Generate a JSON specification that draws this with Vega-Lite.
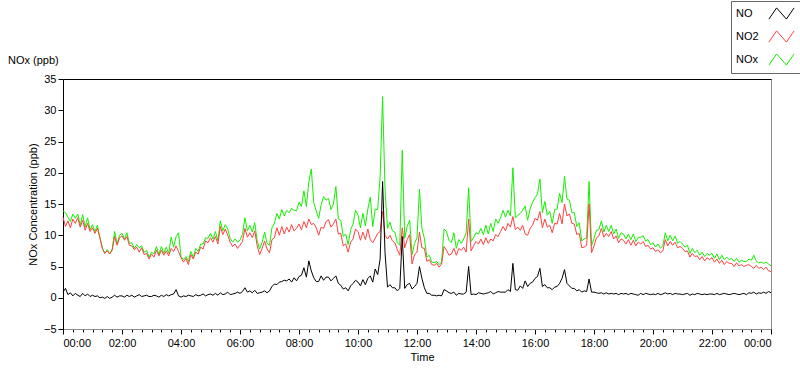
{
  "$schema": "https://vega.github.io/schema/vega-lite/v6.json",
  "width": 708,
  "height": 250,
  "autosize": {"type": "none"},
  "padding": {"left": 63, "top": 79, "right": 29, "bottom": 40},
  "background": "white",
  "config": {
    "font": "Liberation Sans",
    "view": {"stroke": "#8c8c8c", "strokeWidth": 1},
    "axis": {"labelFont": "Liberation Sans", "labelFontSize": 11, "labelColor": "#000", "titleFont": "Liberation Sans", "titleFontSize": 11, "titleFontWeight": "normal", "titleColor": "#000", "grid": false, "tickColor": "#000", "domainColor": "#000"}
  },
  "title": {"text": "NOx (ppb)", "anchor": "start", "frame": "group", "dx": -55, "dy": 90, "offset": 16, "baseline": "alphabetic", "fontSize": 11, "fontWeight": "normal", "font": "Liberation Sans", "color": "#000"},
  "data": {"values": [
{"t":0,"NO":0.9,"NO2":12.9,"NOx":13.9},{"t":5,"NO":1.5,"NO2":11.4,"NOx":13.6},{"t":10,"NO":0.5,"NO2":12.3,"NOx":12.9},{"t":15,"NO":0.8,"NO2":11.2,"NOx":12.2},{"t":20,"NO":0.3,"NO2":12.6,"NOx":13.4},{"t":25,"NO":0.7,"NO2":11.9,"NOx":12.7},{"t":30,"NO":0.4,"NO2":12.8,"NOx":13.4},{"t":35,"NO":0.2,"NO2":11.3,"NOx":11.6},{"t":40,"NO":0.7,"NO2":12.4,"NOx":13.3},{"t":45,"NO":0.3,"NO2":10.8,"NOx":11.3},{"t":50,"NO":0.6,"NO2":11.9,"NOx":12.8},{"t":55,"NO":0.2,"NO2":10.6,"NOx":10.9},
{"t":60,"NO":0.4,"NO2":11.2,"NOx":11.7},{"t":65,"NO":0.2,"NO2":10.3,"NOx":10.6},{"t":70,"NO":0.3,"NO2":11.1,"NOx":11.6},{"t":75,"NO":0.0,"NO2":9.6,"NOx":9.7},{"t":80,"NO":0.1,"NO2":7.9,"NOx":8.0},{"t":85,"NO":-0.1,"NO2":7.1,"NOx":7.1},{"t":90,"NO":0.2,"NO2":7.5,"NOx":7.7},{"t":95,"NO":-0.1,"NO2":7.0,"NOx":7.0},{"t":100,"NO":0.1,"NO2":7.6,"NOx":7.8},{"t":105,"NO":0.4,"NO2":9.8,"NOx":10.6},{"t":110,"NO":0.1,"NO2":8.4,"NOx":8.6},{"t":115,"NO":0.3,"NO2":9.6,"NOx":10.0},
{"t":120,"NO":0.3,"NO2":9.9,"NOx":10.3},{"t":125,"NO":0.1,"NO2":9.2,"NOx":9.4},{"t":130,"NO":0.4,"NO2":9.8,"NOx":10.4},{"t":135,"NO":0.2,"NO2":8.4,"NOx":8.7},{"t":140,"NO":0.4,"NO2":8.3,"NOx":8.8},{"t":145,"NO":0.1,"NO2":7.7,"NOx":7.9},{"t":150,"NO":0.3,"NO2":8.1,"NOx":8.5},{"t":155,"NO":0.5,"NO2":7.3,"NOx":8.0},{"t":160,"NO":0.2,"NO2":8.0,"NOx":8.3},{"t":165,"NO":0.3,"NO2":6.9,"NOx":7.3},{"t":170,"NO":0.4,"NO2":7.1,"NOx":7.6},{"t":175,"NO":0.2,"NO2":6.2,"NOx":6.5},
{"t":180,"NO":0.2,"NO2":7.0,"NOx":7.3},{"t":185,"NO":0.4,"NO2":6.5,"NOx":7.0},{"t":190,"NO":0.3,"NO2":7.6,"NOx":8.2},{"t":195,"NO":0.1,"NO2":6.7,"NOx":6.9},{"t":200,"NO":0.4,"NO2":7.6,"NOx":8.2},{"t":205,"NO":0.2,"NO2":6.8,"NOx":7.1},{"t":210,"NO":0.5,"NO2":7.5,"NOx":8.1},{"t":215,"NO":0.3,"NO2":6.7,"NOx":7.1},{"t":220,"NO":0.5,"NO2":7.9,"NOx":9.7},{"t":225,"NO":0.6,"NO2":7.4,"NOx":8.1},{"t":230,"NO":1.3,"NO2":8.3,"NOx":9.8},{"t":235,"NO":0.3,"NO2":7.4,"NOx":10.4},
{"t":240,"NO":0.1,"NO2":6.4,"NOx":6.6},{"t":245,"NO":0.3,"NO2":5.7,"NOx":6.1},{"t":250,"NO":0.2,"NO2":6.3,"NOx":6.6},{"t":255,"NO":0.4,"NO2":5.3,"NOx":5.8},{"t":260,"NO":0.3,"NO2":6.9,"NOx":7.4},{"t":265,"NO":0.2,"NO2":6.2,"NOx":6.5},{"t":270,"NO":0.5,"NO2":7.3,"NOx":7.9},{"t":275,"NO":0.3,"NO2":7.0,"NOx":7.4},{"t":280,"NO":0.4,"NO2":8.1,"NOx":8.6},{"t":285,"NO":0.6,"NO2":7.8,"NOx":8.6},{"t":290,"NO":0.3,"NO2":9.1,"NOx":9.6},{"t":295,"NO":0.5,"NO2":8.8,"NOx":9.5},
{"t":300,"NO":0.6,"NO2":9.6,"NOx":10.3},{"t":305,"NO":0.4,"NO2":8.9,"NOx":9.4},{"t":310,"NO":0.7,"NO2":9.8,"NOx":10.6},{"t":315,"NO":0.4,"NO2":8.6,"NOx":9.1},{"t":320,"NO":0.8,"NO2":11.4,"NOx":12.3},{"t":325,"NO":0.5,"NO2":10.1,"NOx":10.7},{"t":330,"NO":0.6,"NO2":11.0,"NOx":11.7},{"t":335,"NO":0.9,"NO2":10.0,"NOx":11.0},{"t":340,"NO":0.5,"NO2":8.9,"NOx":9.5},{"t":345,"NO":0.6,"NO2":8.2,"NOx":8.9},{"t":350,"NO":0.7,"NO2":8.6,"NOx":9.4},{"t":355,"NO":0.9,"NO2":7.9,"NOx":8.9},
{"t":360,"NO":0.7,"NO2":8.4,"NOx":9.2},{"t":365,"NO":1.0,"NO2":9.0,"NOx":10.1},{"t":370,"NO":1.6,"NO2":11.1,"NOx":12.8},{"t":375,"NO":0.9,"NO2":9.7,"NOx":10.7},{"t":380,"NO":1.1,"NO2":10.4,"NOx":11.6},{"t":385,"NO":0.8,"NO2":9.6,"NOx":10.5},{"t":390,"NO":1.2,"NO2":10.7,"NOx":12.0},{"t":395,"NO":0.7,"NO2":8.3,"NOx":9.1},{"t":400,"NO":0.8,"NO2":6.9,"NOx":7.8},{"t":405,"NO":0.9,"NO2":7.9,"NOx":8.9},{"t":410,"NO":1.1,"NO2":9.1,"NOx":10.5},{"t":415,"NO":0.8,"NO2":7.8,"NOx":8.7},
{"t":420,"NO":1.1,"NO2":7.2,"NOx":8.4},{"t":425,"NO":1.8,"NO2":9.3,"NOx":11.2},{"t":430,"NO":2.2,"NO2":9.6,"NOx":11.9},{"t":435,"NO":2.1,"NO2":11.2,"NOx":13.5},{"t":440,"NO":2.5,"NO2":10.0,"NOx":12.6},{"t":445,"NO":2.6,"NO2":11.4,"NOx":14.1},{"t":450,"NO":2.8,"NO2":10.2,"NOx":13.1},{"t":455,"NO":2.7,"NO2":11.3,"NOx":14.0},{"t":460,"NO":3.0,"NO2":10.5,"NOx":13.6},{"t":465,"NO":2.5,"NO2":11.7,"NOx":14.3},{"t":470,"NO":3.2,"NO2":10.7,"NOx":14.0},{"t":475,"NO":2.7,"NO2":11.1,"NOx":13.9},
{"t":480,"NO":3.4,"NO2":11.8,"NOx":15.3},{"t":485,"NO":3.6,"NO2":10.9,"NOx":14.6},{"t":490,"NO":4.8,"NO2":12.2,"NOx":17.1},{"t":495,"NO":3.3,"NO2":11.2,"NOx":14.6},{"t":500,"NO":5.9,"NO2":12.6,"NOx":18.6},{"t":505,"NO":4.3,"NO2":11.7,"NOx":20.6},{"t":510,"NO":3.2,"NO2":11.9,"NOx":15.2},{"t":515,"NO":2.6,"NO2":11.2,"NOx":13.9},{"t":520,"NO":2.6,"NO2":10.0,"NOx":12.7},{"t":525,"NO":3.5,"NO2":11.3,"NOx":14.9},{"t":530,"NO":2.8,"NO2":11.1,"NOx":16.2},{"t":535,"NO":3.3,"NO2":12.2,"NOx":15.6},
{"t":540,"NO":3.3,"NO2":12.5,"NOx":15.9},{"t":545,"NO":2.7,"NO2":11.3,"NOx":14.1},{"t":550,"NO":3.1,"NO2":11.8,"NOx":15.0},{"t":555,"NO":3.5,"NO2":12.6,"NOx":17.8},{"t":560,"NO":2.3,"NO2":10.2,"NOx":12.6},{"t":565,"NO":2.0,"NO2":10.3,"NOx":12.4},{"t":570,"NO":1.4,"NO2":8.3,"NOx":9.8},{"t":575,"NO":1.6,"NO2":8.6,"NOx":10.2},{"t":580,"NO":1.1,"NO2":7.3,"NOx":8.5},{"t":585,"NO":1.9,"NO2":8.9,"NOx":10.9},{"t":590,"NO":2.3,"NO2":9.4,"NOx":11.8},{"t":595,"NO":2.8,"NO2":11.0,"NOx":14.0},
{"t":600,"NO":2.5,"NO2":10.6,"NOx":13.2},{"t":605,"NO":1.9,"NO2":9.2,"NOx":11.2},{"t":610,"NO":2.9,"NO2":10.5,"NOx":13.5},{"t":615,"NO":2.1,"NO2":9.3,"NOx":11.5},{"t":620,"NO":3.1,"NO2":11.0,"NOx":14.2},{"t":625,"NO":3.5,"NO2":9.3,"NOx":16.1},{"t":630,"NO":2.5,"NO2":8.8,"NOx":11.4},{"t":635,"NO":4.6,"NO2":9.5,"NOx":14.2},{"t":640,"NO":3.7,"NO2":10.3,"NOx":14.1},{"t":645,"NO":6.2,"NO2":10.6,"NOx":19.4},{"t":650,"NO":18.6,"NO2":13.8,"NOx":32.2},{"t":655,"NO":7.2,"NO2":10.0,"NOx":17.3},
{"t":660,"NO":1.7,"NO2":9.4,"NOx":11.1},{"t":665,"NO":2.1,"NO2":10.0,"NOx":12.1},{"t":670,"NO":1.6,"NO2":9.1,"NOx":10.7},{"t":675,"NO":1.6,"NO2":8.8,"NOx":10.5},{"t":680,"NO":1.1,"NO2":7.7,"NOx":8.8},{"t":685,"NO":1.5,"NO2":6.8,"NOx":8.4},{"t":690,"NO":9.8,"NO2":11.2,"NOx":23.6},{"t":695,"NO":1.5,"NO2":8.0,"NOx":9.5},{"t":700,"NO":2.1,"NO2":9.3,"NOx":11.4},{"t":705,"NO":2.3,"NO2":10.1,"NOx":12.4},{"t":710,"NO":1.4,"NO2":5.4,"NOx":6.9},{"t":715,"NO":1.8,"NO2":6.9,"NOx":8.7},
{"t":720,"NO":2.3,"NO2":7.3,"NOx":9.6},{"t":725,"NO":5.0,"NO2":10.5,"NOx":17.4},{"t":730,"NO":3.1,"NO2":8.0,"NOx":11.1},{"t":735,"NO":1.6,"NO2":7.9,"NOx":9.5},{"t":740,"NO":0.7,"NO2":5.8,"NOx":6.5},{"t":745,"NO":0.7,"NO2":6.1,"NOx":6.8},{"t":750,"NO":0.4,"NO2":5.3,"NOx":5.7},{"t":755,"NO":0.4,"NO2":5.2,"NOx":5.6},{"t":760,"NO":0.3,"NO2":5.5,"NOx":5.8},{"t":765,"NO":0.4,"NO2":4.9,"NOx":5.3},{"t":770,"NO":0.3,"NO2":5.4,"NOx":5.7},{"t":775,"NO":1.3,"NO2":8.2,"NOx":11.0},
{"t":780,"NO":1.1,"NO2":7.6,"NOx":10.6},{"t":785,"NO":0.8,"NO2":6.8,"NOx":9.2},{"t":790,"NO":0.7,"NO2":7.0,"NOx":8.8},{"t":795,"NO":0.9,"NO2":7.9,"NOx":10.4},{"t":800,"NO":0.4,"NO2":6.8,"NOx":7.9},{"t":805,"NO":0.7,"NO2":7.9,"NOx":9.3},{"t":810,"NO":0.6,"NO2":7.6,"NOx":8.7},{"t":815,"NO":0.6,"NO2":8.1,"NOx":9.4},{"t":820,"NO":0.9,"NO2":7.3,"NOx":10.4},{"t":825,"NO":5.0,"NO2":12.6,"NOx":17.6},{"t":830,"NO":0.5,"NO2":7.5,"NOx":9.0},{"t":835,"NO":0.6,"NO2":8.3,"NOx":9.6},
{"t":840,"NO":0.5,"NO2":9.0,"NOx":10.4},{"t":845,"NO":0.8,"NO2":8.6,"NOx":10.2},{"t":850,"NO":0.7,"NO2":9.4,"NOx":11.1},{"t":855,"NO":0.6,"NO2":8.5,"NOx":10.1},{"t":860,"NO":0.7,"NO2":9.6,"NOx":11.6},{"t":865,"NO":0.8,"NO2":8.7,"NOx":10.2},{"t":870,"NO":1.0,"NO2":9.4,"NOx":11.9},{"t":875,"NO":0.6,"NO2":9.1,"NOx":10.6},{"t":880,"NO":0.8,"NO2":10.1,"NOx":12.6},{"t":885,"NO":1.0,"NO2":9.8,"NOx":11.9},{"t":890,"NO":0.9,"NO2":10.6,"NOx":12.8},{"t":895,"NO":0.9,"NO2":11.4,"NOx":14.0},
{"t":900,"NO":0.9,"NO2":10.7,"NOx":12.9},{"t":905,"NO":1.3,"NO2":11.9,"NOx":14.0},{"t":910,"NO":1.0,"NO2":11.3,"NOx":13.1},{"t":915,"NO":5.5,"NO2":13.0,"NOx":20.8},{"t":920,"NO":1.3,"NO2":10.9,"NOx":12.8},{"t":925,"NO":1.2,"NO2":11.3,"NOx":13.2},{"t":930,"NO":1.9,"NO2":10.8,"NOx":13.5},{"t":935,"NO":1.5,"NO2":11.6,"NOx":14.0},{"t":940,"NO":2.7,"NO2":10.2,"NOx":14.7},{"t":945,"NO":1.8,"NO2":10.0,"NOx":12.4},{"t":950,"NO":2.3,"NO2":11.1,"NOx":14.2},{"t":955,"NO":2.5,"NO2":11.6,"NOx":15.3},
{"t":960,"NO":3.1,"NO2":12.7,"NOx":16.0},{"t":965,"NO":3.4,"NO2":12.4,"NOx":16.6},{"t":970,"NO":4.7,"NO2":13.8,"NOx":19.0},{"t":975,"NO":1.8,"NO2":11.2,"NOx":13.6},{"t":980,"NO":2.1,"NO2":12.6,"NOx":15.4},{"t":985,"NO":1.6,"NO2":11.3,"NOx":13.2},{"t":990,"NO":1.6,"NO2":11.6,"NOx":13.8},{"t":995,"NO":1.3,"NO2":10.4,"NOx":11.9},{"t":1000,"NO":1.7,"NO2":11.9,"NOx":14.1},{"t":1005,"NO":1.8,"NO2":11.8,"NOx":14.2},{"t":1010,"NO":2.3,"NO2":13.5,"NOx":16.7},{"t":1015,"NO":3.1,"NO2":11.8,"NOx":15.2},
{"t":1020,"NO":4.5,"NO2":15.0,"NOx":19.4},{"t":1025,"NO":2.3,"NO2":13.1,"NOx":15.8},{"t":1030,"NO":1.9,"NO2":13.4,"NOx":15.6},{"t":1035,"NO":1.5,"NO2":11.9,"NOx":13.6},{"t":1040,"NO":1.5,"NO2":11.8,"NOx":13.6},{"t":1045,"NO":1.1,"NO2":10.1,"NOx":11.4},{"t":1050,"NO":1.3,"NO2":10.3,"NOx":12.0},{"t":1055,"NO":0.9,"NO2":8.0,"NOx":9.1},{"t":1060,"NO":1.1,"NO2":8.1,"NOx":9.4},{"t":1065,"NO":1.0,"NO2":8.4,"NOx":9.6},{"t":1070,"NO":3.0,"NO2":15.0,"NOx":18.6},{"t":1075,"NO":0.9,"NO2":7.2,"NOx":8.3},
{"t":1080,"NO":0.9,"NO2":8.3,"NOx":9.5},{"t":1085,"NO":0.8,"NO2":9.6,"NOx":10.8},{"t":1090,"NO":0.7,"NO2":9.9,"NOx":10.9},{"t":1095,"NO":0.8,"NO2":11.1,"NOx":12.3},{"t":1100,"NO":0.6,"NO2":9.7,"NOx":10.5},{"t":1105,"NO":0.8,"NO2":10.3,"NOx":11.6},{"t":1110,"NO":0.6,"NO2":9.8,"NOx":10.6},{"t":1115,"NO":0.7,"NO2":10.6,"NOx":11.6},{"t":1120,"NO":0.6,"NO2":9.4,"NOx":10.2},{"t":1125,"NO":0.7,"NO2":9.9,"NOx":11.0},{"t":1130,"NO":0.5,"NO2":8.8,"NOx":9.5},{"t":1135,"NO":0.7,"NO2":9.4,"NOx":10.4},
{"t":1140,"NO":0.6,"NO2":9.2,"NOx":10.2},{"t":1145,"NO":0.7,"NO2":8.6,"NOx":9.4},{"t":1150,"NO":0.5,"NO2":9.3,"NOx":10.2},{"t":1155,"NO":0.7,"NO2":8.4,"NOx":9.3},{"t":1160,"NO":0.6,"NO2":9.2,"NOx":10.2},{"t":1165,"NO":0.5,"NO2":8.3,"NOx":9.0},{"t":1170,"NO":0.4,"NO2":8.9,"NOx":9.6},{"t":1175,"NO":0.7,"NO2":8.6,"NOx":9.7},{"t":1180,"NO":0.5,"NO2":9.0,"NOx":9.9},{"t":1185,"NO":0.7,"NO2":8.2,"NOx":9.1},{"t":1190,"NO":0.6,"NO2":8.4,"NOx":9.3},{"t":1195,"NO":0.5,"NO2":7.8,"NOx":8.5},
{"t":1200,"NO":0.6,"NO2":8.0,"NOx":8.8},{"t":1205,"NO":0.5,"NO2":7.4,"NOx":8.1},{"t":1210,"NO":0.7,"NO2":7.7,"NOx":8.6},{"t":1215,"NO":0.5,"NO2":7.2,"NOx":7.9},{"t":1220,"NO":0.6,"NO2":7.5,"NOx":8.3},{"t":1225,"NO":0.8,"NO2":9.3,"NOx":10.4},{"t":1230,"NO":0.6,"NO2":8.3,"NOx":9.1},{"t":1235,"NO":0.7,"NO2":9.0,"NOx":10.0},{"t":1240,"NO":0.5,"NO2":8.4,"NOx":9.1},{"t":1245,"NO":0.7,"NO2":8.9,"NOx":9.9},{"t":1250,"NO":0.6,"NO2":8.0,"NOx":8.7},{"t":1255,"NO":0.6,"NO2":8.2,"NOx":9.0},
{"t":1260,"NO":0.5,"NO2":7.9,"NOx":8.6},{"t":1265,"NO":0.6,"NO2":7.4,"NOx":8.1},{"t":1270,"NO":0.7,"NO2":7.5,"NOx":8.4},{"t":1275,"NO":0.4,"NO2":6.5,"NOx":7.1},{"t":1280,"NO":0.6,"NO2":7.1,"NOx":7.9},{"t":1285,"NO":0.5,"NO2":6.6,"NOx":7.2},{"t":1290,"NO":0.7,"NO2":6.7,"NOx":7.6},{"t":1295,"NO":0.6,"NO2":6.1,"NOx":6.8},{"t":1300,"NO":0.5,"NO2":6.6,"NOx":7.3},{"t":1305,"NO":0.6,"NO2":5.9,"NOx":6.6},{"t":1310,"NO":0.5,"NO2":6.4,"NOx":7.1},{"t":1315,"NO":0.6,"NO2":6.1,"NOx":6.8},
{"t":1320,"NO":0.6,"NO2":6.4,"NOx":7.1},{"t":1325,"NO":0.5,"NO2":5.7,"NOx":6.3},{"t":1330,"NO":0.7,"NO2":6.2,"NOx":7.0},{"t":1335,"NO":0.5,"NO2":5.5,"NOx":6.1},{"t":1340,"NO":0.6,"NO2":6.0,"NOx":6.8},{"t":1345,"NO":0.7,"NO2":5.3,"NOx":6.1},{"t":1350,"NO":0.6,"NO2":5.8,"NOx":6.5},{"t":1355,"NO":0.5,"NO2":5.5,"NOx":6.1},{"t":1360,"NO":0.6,"NO2":5.5,"NOx":6.3},{"t":1365,"NO":0.7,"NO2":5.0,"NOx":5.8},{"t":1370,"NO":0.6,"NO2":5.6,"NOx":6.3},{"t":1375,"NO":0.5,"NO2":5.1,"NOx":5.7},
{"t":1380,"NO":0.6,"NO2":5.3,"NOx":6.0},{"t":1385,"NO":0.7,"NO2":5.0,"NOx":5.8},{"t":1390,"NO":0.5,"NO2":5.2,"NOx":5.8},{"t":1395,"NO":0.8,"NO2":5.3,"NOx":6.2},{"t":1400,"NO":0.7,"NO2":5.0,"NOx":6.0},{"t":1405,"NO":0.9,"NO2":4.7,"NOx":6.8},{"t":1410,"NO":0.6,"NO2":5.2,"NOx":5.9},{"t":1415,"NO":0.8,"NO2":4.7,"NOx":5.6},{"t":1420,"NO":0.7,"NO2":4.9,"NOx":5.7},{"t":1425,"NO":0.9,"NO2":4.5,"NOx":5.5},{"t":1430,"NO":0.7,"NO2":4.9,"NOx":5.7},{"t":1435,"NO":1.0,"NO2":4.3,"NOx":5.4},{"t":1440,"NO":0.8,"NO2":4.2,"NOx":5.1}
  ]},
  "transform": [{"fold": ["NOx", "NO2", "NO"], "as": ["series", "value"]}],
  "encoding": {
    "y": {"field": "value", "type": "quantitative", "scale": {"domain": [-5, 35], "nice": false, "zero": false}, "axis": {"values": [-5, 0, 5, 10, 15, 20, 25, 30, 35], "tickSize": 5, "labelPadding": 2, "titlePadding": 5, "domainColor": "#000", "title": "NOx Concentration (ppb)"}},
    "color": {"field": "series", "type": "nominal", "scale": {"domain": ["NO", "NO2", "NOx"], "range": ["#000000", "#ff4040", "#14f000"]}, "legend": {"orient": "none", "legendX": 668, "legendY": -78, "title": null, "symbolType": "M-1.8,0.8L-0.7,-0.8L0.7,0.8L1.8,-0.8", "symbolSize": 196, "symbolStrokeWidth": 1, "symbolOffset": 38, "labelOffset": -53, "labelFontSize": 11, "labelFont": "Liberation Sans", "labelColor": "#000", "rowPadding": 6, "padding": 5, "strokeColor": "#666", "fillColor": "white"}}
  },
  "layer": [
    {"transform": [{"filter": {"field": "series", "equal": "NOx"}}], "mark": {"type": "line", "strokeWidth": 1}, "encoding": {"x": {"field": "t", "type": "quantitative", "scale": {"domain": [0, 1440], "nice": false, "zero": false}, "axis": {"orient": "bottom", "values": [0,20,40,60,80,100,120,140,160,180,200,220,240,260,280,300,320,340,360,380,400,420,440,460,480,500,520,540,560,580,600,620,640,660,680,700,720,740,760,780,800,820,840,860,880,900,920,940,960,980,1000,1020,1040,1060,1080,1100,1120,1140,1160,1180,1200,1220,1240,1260,1280,1300,1320,1340,1360,1380,1400,1420,1440], "labels": false, "domain": false, "tickSize": 3, "title": null}}}},
    {"transform": [{"filter": {"field": "series", "equal": "NO2"}}], "mark": {"type": "line", "strokeWidth": 1}, "encoding": {"x": {"field": "t", "type": "quantitative", "scale": {"domain": [0, 1440], "nice": false, "zero": false}, "axis": {"orient": "bottom", "values": [0,120,240,360,480,600,720,840,960,1080,1200,1320,1440], "labelExpr": "timeFormat(datetime(2000,0,1,0,datum.value),'%H:%M')", "tickSize": 5, "labelPadding": 3, "domainColor": "#8c8c8c", "title": "Time", "titlePadding": 3, "titleX": 359}}}},
    {"transform": [{"filter": {"field": "series", "equal": "NO"}}], "mark": {"type": "line", "strokeWidth": 1}, "encoding": {"x": {"field": "t", "type": "quantitative", "scale": {"domain": [0, 1440], "nice": false, "zero": false}, "axis": {"orient": "top", "labels": false, "ticks": false, "domain": true, "domainColor": "#000", "title": null}}}}
  ],
  "resolve": {"axis": {"x": "independent"}}
}
